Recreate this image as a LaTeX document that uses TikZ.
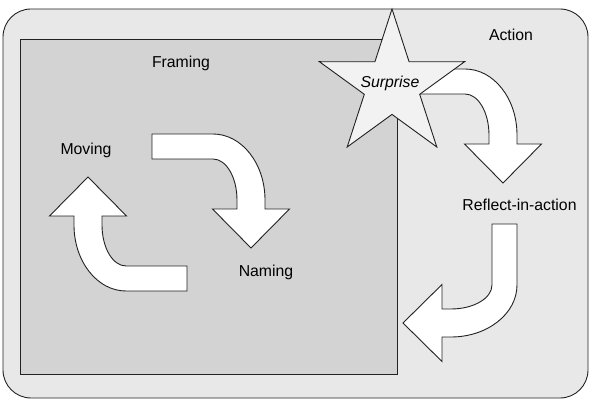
\documentclass[tikz,border=0pt]{standalone}
\usepackage{fontspec}
\setmainfont{Liberation Sans}
\definecolor{actionfill}{HTML}{E8E8E8}
\definecolor{framefill}{HTML}{D3D3D3}
\definecolor{starfill}{HTML}{F2F2F2}
\definecolor{edge}{HTML}{222222}
\tikzset{
  outline/.style={draw=edge, line width=0.9pt, line join=miter},
  lbl/.style={font=\fontsize{15.8}{18}\selectfont, inner sep=0pt, text=black},
  % block arrow: tail runs to the right, bends clockwise and points down;
  % origin sits at the centre of the bend
  bentarrow/.pic={
    \draw[outline, fill=white]
      (-61,-66) -- (0,-66)
      .. controls (28.7,-66) and (52,-36.5) .. (52,0)
      -- (52,9) -- (76.5,9) -- (38,48) -- (-0.5,9) -- (24,9) -- (24,0)
      .. controls (24,-22.6) and (13.3,-41) .. (0,-41)
      -- (-61,-41) -- cycle;
  }
}
\begin{document}
\begin{tikzpicture}[x=1pt,y=-1pt]
  \useasboundingbox (0,0) rectangle (590,406);

  % action area and framing area
  \draw[outline, fill=actionfill, rounded corners=28pt] (3,9) rectangle (588,398);
  \draw[outline, fill=framefill] (20,39) rectangle (397,374);

  % moving / naming cycle
  \pic at (213,200) {bentarrow};
  \pic[rotate=180] at (126,225) {bentarrow};

  % surprise -> reflect-in-action -> back into framing
  \pic at (465,135) {bentarrow};
  \pic[rotate=-90] at (451,285) {bentarrow};

  % surprise star
  \draw[outline, fill=starfill]
    (392,9.0) -- (409.1,61.8) -- (464.6,61.7) -- (419.7,94.3) -- (436.8,147.0)
    -- (392,114.4) -- (347.2,147.0) -- (364.3,94.3) -- (319.4,61.7) -- (374.9,61.8)
    -- cycle;

  % labels
  \node[lbl] (framing) at (181,63) {Framing};
  \node[lbl] (action) at (511,35) {Action};
  \node[lbl] (moving) at (86,150) {Moving};
  \node[lbl] (naming) at (266,272) {Naming};
  \node[lbl] (reflect) at (519.5,205) {Reflect-in-action};
  \node[lbl, font=\fontsize{15.8}{18}\selectfont\itshape] (surprise) at (390,83) {Surprise};
\end{tikzpicture}
\end{document}
